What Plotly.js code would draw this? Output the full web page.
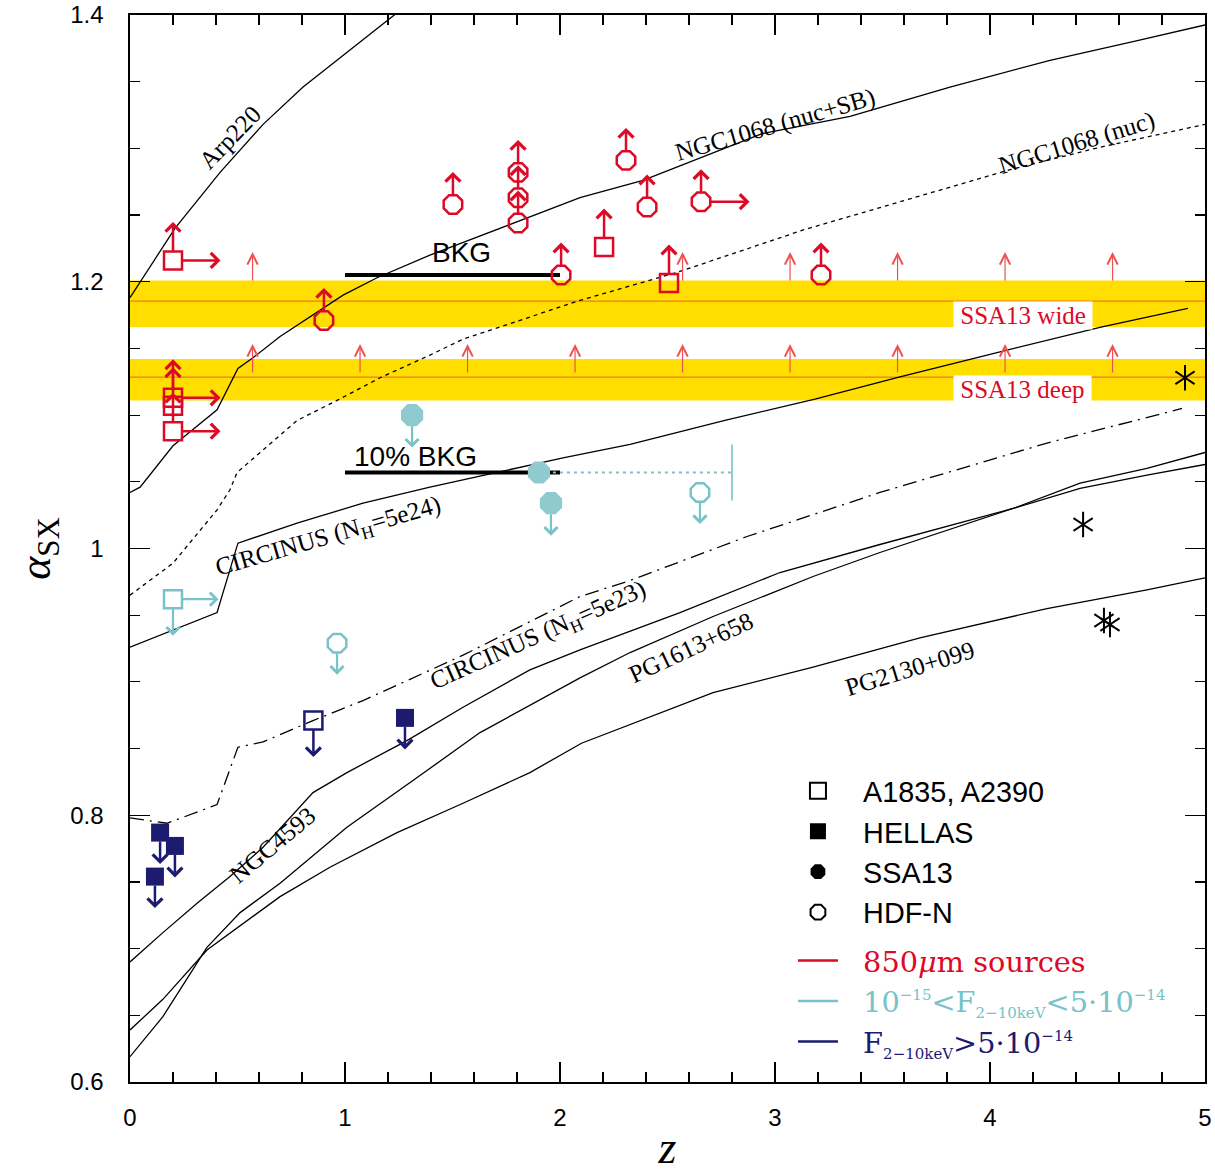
<!DOCTYPE html>
<html><head><meta charset="utf-8">
<script src="https://cdn.plot.ly/plotly-3.0.1.min.js"></script>
<style>body{margin:0;background:#fff}#chart{width:1215px;height:1173px}</style>
</head><body><div id="chart"></div>
<script>
// ---------- model curves (z, alpha_SX) ----------
const arp220Z = [0, 0.102, 0.209, 0.419, 0.619, 0.805, 1.009, 1.209, 1.30];
const arp220A = [1.188, 1.213, 1.240, 1.282, 1.318, 1.346, 1.372, 1.398, 1.409];

const n1068sbZ = [0, 0.047, 0.2, 0.405, 0.502, 0.572, 0.698, 0.870, 0.991, 1.149, 1.395, 2.093, 2.386, 2.94, 3.349, 3.814, 4.279, 4.665, 5.0];
const n1068sbA = [1.042, 1.046, 1.077, 1.104, 1.135, 1.143, 1.159, 1.177, 1.190, 1.203, 1.220, 1.263, 1.276, 1.311, 1.324, 1.346, 1.366, 1.380, 1.3925];

const n1068nucZ = [0, 0.2, 0.405, 0.465, 0.498, 0.619, 0.777, 0.963, 1.163, 1.395, 1.549, 2.093, 2.544, 3.135, 3.726, 4.093, 4.516, 5.0];
const n1068nucA = [0.965, 0.989, 1.029, 1.044, 1.057, 1.074, 1.096, 1.111, 1.128, 1.145, 1.157, 1.186, 1.207, 1.239, 1.267, 1.284, 1.301, 1.318];

const circ24Z = [0, 0.2, 0.405, 0.502, 0.777, 1.084, 1.395, 1.707, 2.014, 2.326, 2.767, 3.186, 3.581, 4.084, 4.516, 4.92];
const circ24A = [0.926, 0.939, 0.952, 1.004, 1.019, 1.034, 1.046, 1.057, 1.068, 1.078, 1.096, 1.112, 1.1286, 1.149, 1.166, 1.180];

const circ23Z = [0, 0.172, 0.405, 0.502, 0.619, 0.851, 1.084, 1.395, 1.549, 2.093, 2.326, 2.87, 3.488, 4.265, 4.893];
const circ23A = [0.798, 0.794, 0.808, 0.851, 0.855, 0.871, 0.886, 0.909, 0.920, 0.964, 0.976, 1.009, 1.042, 1.079, 1.105];

const n4593Z = [0, 0.153, 0.312, 0.465, 0.619, 0.851, 1.009, 1.288, 1.549, 1.86, 2.093, 2.558, 3.023, 3.488, 4.107, 4.419, 4.73, 5.0];
const n4593A = [0.690, 0.712, 0.734, 0.754, 0.776, 0.817, 0.832, 0.856, 0.881, 0.909, 0.924, 0.952, 0.982, 1.003, 1.030, 1.045, 1.055, 1.063];

const pg1613Z = [0, 0.153, 0.358, 0.512, 0.698, 1.009, 1.316, 1.628, 2.093, 2.326, 2.712, 3.177, 3.488, 4.107, 4.419, 4.73, 5.0];
const pg1613A = [0.619, 0.649, 0.701, 0.727, 0.749, 0.791, 0.826, 0.862, 0.903, 0.922, 0.949, 0.979, 0.997, 1.030, 1.049, 1.060, 1.072];

const pg2130Z = [0, 0.153, 0.358, 0.698, 0.93, 1.242, 1.549, 1.86, 2.1, 2.712, 3.177, 3.674, 4.265, 4.73, 5.0];
const pg2130A = [0.639, 0.662, 0.699, 0.739, 0.761, 0.787, 0.809, 0.832, 0.854, 0.892, 0.911, 0.933, 0.955, 0.969, 0.978];

// background levels
const bkgZ = [1, 2], bkgA = [1.205, 1.205];
const bkg10Z = [1, 2], bkg10A = [1.057, 1.057];

// SSA13 bands
const bandName = ['SSA13 wide', 'SSA13 deep'];
const bandLow = [1.166, 1.111];
const bandHigh = [1.201, 1.142];
const bandMid = [1.1855, 1.1285];
const bandArrowBase = [1.201, 1.132];
const bandArrowZ = [
  [0.57, 2.57, 3.07, 3.57, 4.07, 4.57],
  [0.57, 1.07, 1.57, 2.07, 2.57, 3.07, 3.57, 4.07, 4.57]
];

// 850um sources (red)
const redOctZ = [0.902, 1.502, 1.805, 1.805, 1.805, 2.005, 2.307, 2.405, 2.656, 3.214];
const redOctA = [1.171, 1.258, 1.282, 1.263, 1.244, 1.205, 1.291, 1.256, 1.260, 1.205];
const redOctRight = [0, 0, 0, 0, 0, 0, 0, 0, 1, 0];
const redSqZ = [0.2, 0.2, 0.2, 0.2, 2.205, 2.507];
const redSqA = [1.216, 1.113, 1.107, 1.088, 1.226, 1.199];
const redSqRight = [1, 1, 0, 1, 0, 0];

// 1e-15 < F < 5e-14 (cyan)
const cyanSsaZ = [1.312, 1.902, 1.958];
const cyanSsaA = [1.100, 1.057, 1.034];
const cyanSsaDown = [1, 0, 1];
const cyanHdfZ = [0.963, 2.651];
const cyanHdfA = [0.929, 1.042];
const cyanSqZ = [0.2];
const cyanSqA = [0.962];
const cyanRangeZ = [1.902, 2.8];
const cyanRangeA = [1.057, 1.057];

// F > 5e-14 (navy)
const navyOpenZ = [0.853];
const navyOpenA = [0.871];
const navySqZ = [0.116, 0.14, 0.209, 1.279];
const navySqA = [0.754, 0.787, 0.777, 0.873];

// stars
const starZ = [4.433, 4.53, 4.558, 4.907];
const starA = [1.018, 0.946, 0.943, 1.128];

// ---------- styles ----------
const RED = '#dc0a26', RED_THIN = '#ef5050';
const CYAN = '#78c2c9', CYAN_FILL = '#8fcbce';
const NAVY = '#1d1b6f';
const YELLOW = '#ffde00', BANDLINE = '#f0602a';
const SERIF = 'Liberation Serif, Times New Roman, serif';
const SANS = 'Liberation Sans, Arial, sans-serif';

const traces = [];
function curve(x, y, dash) {
  traces.push({x, y, mode: 'lines', type: 'scatter', showlegend: false, hoverinfo: 'skip',
    line: {color: 'black', width: 1.3, dash: dash || 'solid'}});
}
curve(arp220Z, arp220A);
curve(n1068sbZ, n1068sbA);
curve(n1068nucZ, n1068nucA, '4px,4px');
curve(circ24Z, circ24A);
curve(circ23Z, circ23A, '14px,6px,2px,6px');
curve(n4593Z, n4593A);
curve(pg1613Z, pg1613A);
curve(pg2130Z, pg2130A);

traces.push({x: bkgZ, y: bkgA, mode: 'lines', showlegend: false, line: {color: 'black', width: 4}});
traces.push({x: bkg10Z, y: bkg10A, mode: 'lines', showlegend: false, line: {color: 'black', width: 4}});
traces.push({x: cyanRangeZ, y: cyanRangeA, mode: 'lines', showlegend: false, line: {color: CYAN, width: 2, dash: '3px,4px'}});
traces.push({x: [cyanRangeZ[1]], y: [cyanRangeA[1]], mode: 'markers', showlegend: false,
  marker: {symbol: 'line-ns-open', size: 40, color: CYAN, line: {color: CYAN, width: 1.6}}});

function pts(x, y, symbol, size, color, fill) {
  traces.push({x, y, mode: 'markers', type: 'scatter', showlegend: false, hoverinfo: 'skip',
    marker: {symbol, size, color, line: {color, width: fill ? 0 : 2.5}}});
}
pts(redOctZ, redOctA, 'octagon-open', 20, RED, false);
pts(redSqZ, redSqA, 'square-open', 18, RED, false);
pts(cyanSsaZ, cyanSsaA, 'octagon', 24, CYAN_FILL, true);
pts(cyanHdfZ, cyanHdfA, 'octagon-open', 20, CYAN, false);
pts(cyanSqZ, cyanSqA, 'square-open', 18, CYAN, false);
pts(navyOpenZ, navyOpenA, 'square-open', 18, NAVY, false);
pts(navySqZ, navySqA, 'square', 18, NAVY, true);
['y-up-open', 'y-down-open'].forEach(s => traces.push({x: starZ, y: starA, mode: 'markers', showlegend: false,
  marker: {symbol: s, size: 16, color: 'black', line: {color: 'black', width: 2}}}));

// legend entries
const GAP = '\u2002\u2009';
function legM(name, symbol, filled) {
  traces.push({x: [null], y: [null], mode: 'markers', name: GAP + name, legendgroup: 'm',
    marker: {symbol, size: 18, color: 'black', line: {color: 'black', width: filled ? 0 : 2}}});
}
legM('A1835, A2390', 'square-open', false);
legM('HELLAS', 'square', true);
legM('SSA13', 'octagon', true);
legM('HDF-N', 'octagon-open', false);
function legL(name, color) {
  traces.push({x: [null], y: [null], mode: 'lines', legendgroup: 'l',
    name: GAP + '<span style="color:' + color + ';font-family:DejaVu Serif">' + name + '</span>',
    line: {color, width: 2.5}});
}
const sm = t => '<span style="font-size:15px">' + t + '</span>';
legL('850<i>μ</i>m sources', RED);
legL('10<sup>' + sm('−15') + '</sup>&lt;F<sub>' + sm('2−10keV') + '</sub>&lt;5·10<sup>' + sm('−14') + '</sup>', CYAN);
legL('F<sub>' + sm('2−10keV') + '</sub>&gt;5·10<sup>' + sm('−14') + '</sup>', NAVY);

// ---------- annotations ----------
const ann = [];
function arrow(x, y, dir, color, len, standoff, width, head, size) {
  ann.push({x, y, xref: 'x', yref: 'y', text: '', showarrow: true, arrowside: 'start',
    ax: dir === 'right' ? len : 0, ay: dir === 'up' ? -len : (dir === 'down' ? len : 0),
    startarrowhead: head, startarrowsize: size, arrowwidth: width, arrowcolor: color, standoff});
}
redOctZ.forEach((z, i) => {
  arrow(z, redOctA[i], 'up', RED, 34, 10, 2.5, 4, 1.15);
  if (redOctRight[i]) arrow(z, redOctA[i], 'right', RED, 50, 10, 2.5, 4, 1.15);
});
redSqZ.forEach((z, i) => {
  arrow(z, redSqA[i], 'up', RED, 40, 9, 2.5, 4, 1.15);
  if (redSqRight[i]) arrow(z, redSqA[i], 'right', RED, 49, 9, 2.5, 4, 1.15);
});
cyanSsaZ.forEach((z, i) => { if (cyanSsaDown[i]) arrow(z, cyanSsaA[i], 'down', CYAN, 34, 11, 2.2, 4, 1.15); });
cyanHdfZ.forEach((z, i) => arrow(z, cyanHdfA[i], 'down', CYAN, 33, 10, 2.2, 4, 1.15));
cyanSqZ.forEach((z, i) => { arrow(z, cyanSqA[i], 'down', CYAN, 38, 9, 2.2, 4, 1.15); arrow(z, cyanSqA[i], 'right', CYAN, 47, 9, 2.2, 4, 1.15); });
navyOpenZ.forEach((z, i) => arrow(z, navyOpenA[i], 'down', NAVY, 38, 9, 2.5, 4, 1.15));
navySqZ.forEach((z, i) => arrow(z, navySqA[i], 'down', NAVY, 33, 9, 2.5, 4, 1.15));
bandArrowZ.forEach((zs, b) => zs.forEach(z => arrow(z, bandArrowBase[b], 'up', RED_THIN, 30, 0, 1.2, 5, 1.7)));

function label(x, y, text, angle, opts) {
  ann.push(Object.assign({x, y, xref: 'x', yref: 'y', text, textangle: angle, showarrow: false,
    font: {family: SERIF, size: 25, color: 'black'}}, opts || {}));
}
label(0.465, 1.308, 'Arp220', -46);
label(3.0, 1.3175, 'NGC1068 (nuc+SB)', -16);
label(4.405, 1.304, 'NGC1068 (nuc)', -17);
label(0.921, 1.008, 'CIRCINUS (N<sub>H</sub>=5e24)', -16);
label(1.898, 0.934, 'CIRCINUS (N<sub>H</sub>=5e23)', -24);
label(2.609, 0.926, 'PG1613+658', -25);
label(3.628, 0.910, 'PG2130+099', -17);
label(0.665, 0.778, 'NGC4593', -40);
label(1.544, 1.222, 'BKG', 0, {font: {family: SANS, size: 28, color: 'black'}});
label(1.33, 1.069, '10% BKG', 0, {font: {family: SANS, size: 28, color: 'black'}});
label(4.153, 1.1745, '\u00a0' + bandName[0] + '\u00a0', 0, {bgcolor: 'white', borderpad: 0, font: {family: SERIF, size: 25, color: RED}});
label(4.153, 1.1195, '\u00a0' + bandName[1] + '\u00a0', 0, {bgcolor: 'white', borderpad: 0, font: {family: SERIF, size: 25, color: RED}});

// ---------- shapes (bands) ----------
const shapes = [];
bandLow.forEach((lo, i) => {
  shapes.push({type: 'rect', xref: 'paper', yref: 'y', x0: 0, x1: 1, y0: lo, y1: bandHigh[i],
    fillcolor: YELLOW, line: {width: 0}, layer: 'below'});
  shapes.push({type: 'line', xref: 'paper', yref: 'y', x0: 0, x1: 1, y0: bandMid[i], y1: bandMid[i],
    line: {color: BANDLINE, width: 1}, layer: 'below'});
});

const axisCommon = {
  showline: true, linecolor: 'black', linewidth: 1.6, mirror: 'ticks', ticks: 'inside',
  tickcolor: 'black', tickwidth: 1.4, ticklen: 20, showgrid: false, zeroline: false,
  tickfont: {family: SANS, size: 24, color: 'black'}
};
const layout = {
  width: 1215, height: 1173,
  margin: {l: 130, r: 10, t: 15, b: 91},
  paper_bgcolor: 'white', plot_bgcolor: 'white',
  xaxis: Object.assign({}, axisCommon, {range: [0, 5], dtick: 1, tick0: 0,
    minor: {dtick: 0.2, ticks: 'inside', ticklen: 10, tickwidth: 1.2, tickcolor: 'black'},
    ticklabelstandoff: 14,
    title: {text: '<i>z</i>', font: {family: SERIF, size: 46, color: 'black'}, standoff: 16}}),
  yaxis: Object.assign({}, axisCommon, {range: [0.6, 1.4], dtick: 0.2, tick0: 0.6,
    minor: {dtick: 0.05, ticks: 'inside', ticklen: 10, tickwidth: 1.2, tickcolor: 'black'},
    ticklabelstandoff: 20,
    title: {text: '<i>α</i><sub>SX</sub>', font: {family: SERIF, size: 44, color: 'black'}, standoff: 6}}),
  showlegend: true,
  legend: {x: 0.6167, y: 0.2965, xanchor: 'left', yanchor: 'top', bgcolor: 'rgba(0,0,0,0)',
    font: {family: SANS, size: 28.8, color: 'black'}, itemwidth: 40, tracegroupgap: 8, traceorder: 'grouped'},
  shapes, annotations: ann
};
Plotly.newPlot('chart', traces, layout, {displayModeBar: false, staticPlot: true});
</script>
</body></html>
